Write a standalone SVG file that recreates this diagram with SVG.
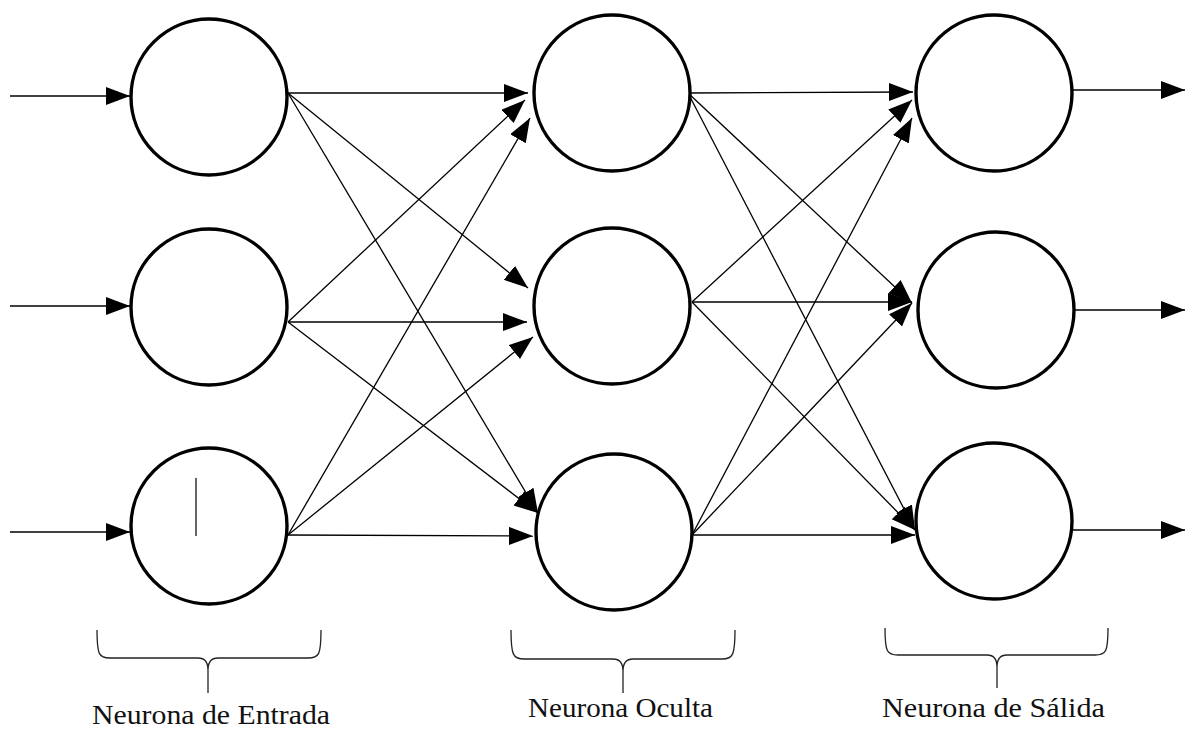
<svg xmlns="http://www.w3.org/2000/svg" width="1192" height="729" viewBox="0 0 1192 729">
<defs>
<marker id="arr" markerUnits="userSpaceOnUse" markerWidth="26" markerHeight="20" refX="24" refY="9" orient="auto">
<path d="M0,0 L24,9 L0,18 z" fill="#000"/>
</marker>
<style>
.node{fill:#fff;stroke:#000;stroke-width:3.4}
.c line{stroke:#000;stroke-width:1.3;marker-end:url(#arr)}
.brace{fill:none;stroke:#222;stroke-width:1.3}
.lbl{font-family:"Liberation Serif","Times New Roman",serif;font-size:28px;fill:#111}
</style>
</defs>
<rect width="1192" height="729" fill="#fff"/>
<g id="connectors" class="c">
<line x1="10" y1="96" x2="130" y2="96"/>
<line x1="10" y1="306" x2="130" y2="306"/>
<line x1="10" y1="532" x2="130" y2="532"/>
<line x1="288" y1="93" x2="528" y2="93"/>
<line x1="288" y1="93" x2="528" y2="288"/>
<line x1="288" y1="93" x2="538" y2="513"/>
<line x1="288" y1="322" x2="525" y2="100"/>
<line x1="288" y1="322" x2="527" y2="322"/>
<line x1="288" y1="322" x2="538" y2="513"/>
<line x1="288" y1="535" x2="530" y2="118"/>
<line x1="288" y1="535" x2="533" y2="337"/>
<line x1="288" y1="535" x2="533" y2="536"/>
<line x1="688" y1="93" x2="913" y2="92"/>
<line x1="688" y1="93" x2="912" y2="303"/>
<line x1="688" y1="93" x2="915" y2="530"/>
<line x1="692" y1="302" x2="912" y2="100"/>
<line x1="692" y1="302" x2="912" y2="302"/>
<line x1="692" y1="302" x2="915" y2="530"/>
<line x1="692" y1="535" x2="912" y2="118"/>
<line x1="692" y1="535" x2="912" y2="303"/>
<line x1="692" y1="535" x2="915" y2="535"/>
<line x1="1073" y1="90" x2="1185" y2="90"/>
<line x1="1075" y1="310" x2="1185" y2="310"/>
<line x1="1073" y1="530" x2="1185" y2="530"/>
</g>
<g id="in1"><circle class="node" cx="209" cy="97" r="78"/></g>
<g id="in2"><circle class="node" cx="209" cy="307" r="78"/></g>
<g id="in3"><circle class="node" cx="209" cy="526" r="78"/><line x1="196" y1="478" x2="196" y2="536" stroke="#333" stroke-width="1.5"/></g>
<g id="hid1"><circle class="node" cx="612" cy="93" r="78"/></g>
<g id="hid2"><circle class="node" cx="612" cy="306" r="78"/></g>
<g id="hid3"><circle class="node" cx="614" cy="532" r="78"/></g>
<g id="out1"><circle class="node" cx="994" cy="93" r="78"/></g>
<g id="out2"><circle class="node" cx="996" cy="310" r="78"/></g>
<g id="out3"><circle class="node" cx="994" cy="521" r="78"/></g>
<g id="label-entrada">
<path class="brace" d="M97,630 C97,655 99,658 110,658 L198,658 C205,658 208,662 208,670 L208,693 M208,670 C208,662 211,658 218,658 L308,658 C319,658 321,655 321,630"/>
<text class="lbl" x="92" y="724" textLength="238" lengthAdjust="spacingAndGlyphs">Neurona de Entrada</text>
</g>
<g id="label-oculta">
<path class="brace" d="M511,630 C511,655 513,659 524,659 L613,659 C620,659 623,663 623,671 L623,693 M623,671 C623,663 626,659 633,659 L722,659 C733,659 735,655 735,630"/>
<text class="lbl" x="528" y="717" textLength="185" lengthAdjust="spacingAndGlyphs">Neurona Oculta</text>
</g>
<g id="label-salida">
<path class="brace" d="M885,628 C885,652 887,655 898,655 L987,655 C994,655 997,659 997,667 L997,688 M997,667 C997,659 1000,655 1007,655 L1095,655 C1106,655 1108,652 1108,628"/>
<text class="lbl" x="882" y="717" textLength="223" lengthAdjust="spacingAndGlyphs">Neurona de Sálida</text>
</g>
</svg>
